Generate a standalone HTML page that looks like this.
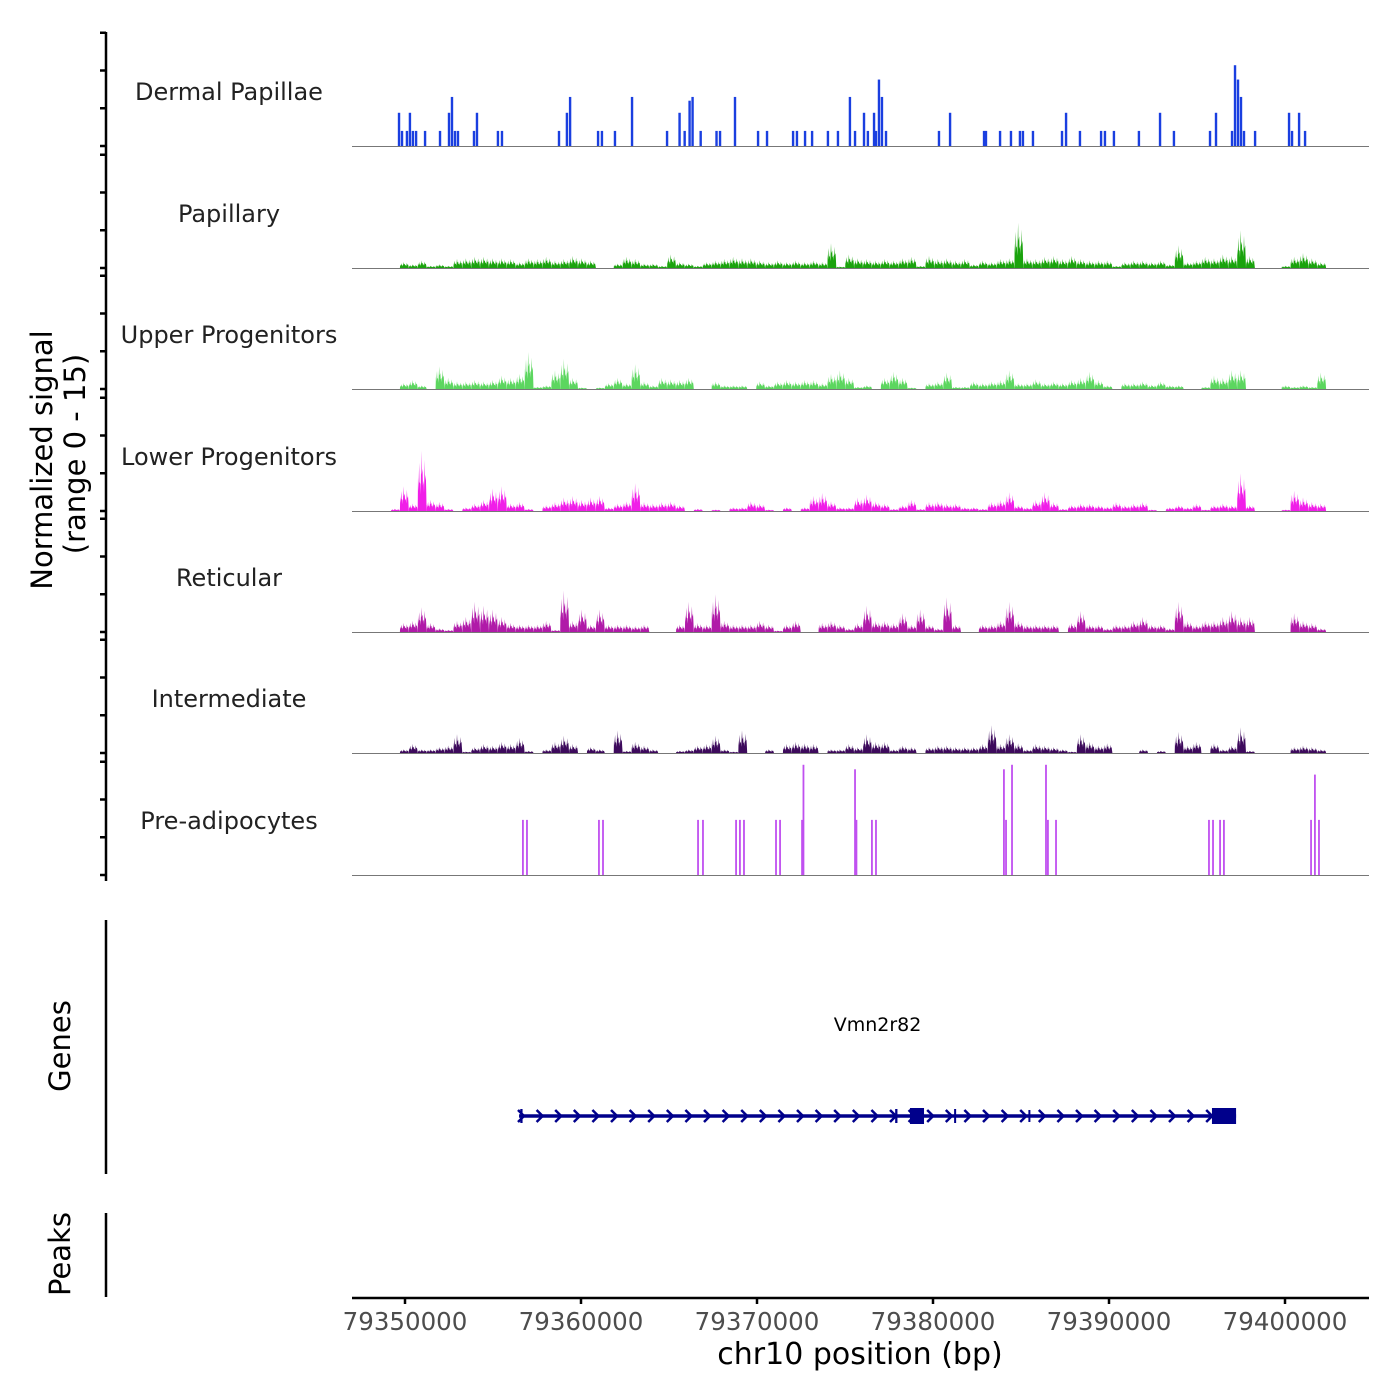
<!DOCTYPE html>
<html><head><meta charset="utf-8">
<style>
html,body{margin:0;padding:0;background:#fff;}
svg{display:block;font-family:"DejaVu Sans","Liberation Sans",sans-serif;}
</style></head>
<body>
<svg id="chart" width="1400" height="1400" viewBox="0 0 1400 1400" xmlns="http://www.w3.org/2000/svg">
  <g id="tracks"></g>
  <line x1="106" y1="32" x2="106" y2="881" stroke="#000" stroke-width="2.5"/>
  <g id="yticks"></g>
  <text transform="translate(52,460) rotate(-90)" text-anchor="middle" font-size="29" fill="#000">Normalized signal</text>
  <text transform="translate(85,454) rotate(-90)" text-anchor="middle" font-size="29" fill="#000">(range 0 - 15)</text>
  <line x1="106" y1="920" x2="106" y2="1174" stroke="#000" stroke-width="2.5"/>
  <text transform="translate(70,1046) rotate(-90)" text-anchor="middle" font-size="29" fill="#000">Genes</text>
  <g id="genes"></g>
  <line x1="106" y1="1213" x2="106" y2="1297" stroke="#000" stroke-width="2.5"/>
  <text transform="translate(70,1254) rotate(-90)" text-anchor="middle" font-size="29" fill="#000">Peaks</text>
  <line x1="352" y1="1298" x2="1369" y2="1298" stroke="#000" stroke-width="2.5"/>
  <g id="xticks"></g>
  <text x="860" y="1364" text-anchor="middle" font-size="30" fill="#000">chr10 position (bp)</text>
</svg>
<script>
// ---- data (positions in kb relative to 79,350,000 bp; signal values 0-15) ----
const trackNames = ["Dermal Papillae","Papillary","Upper Progenitors","Lower Progenitors","Reticular","Intermediate","Pre-adipocytes"];
const trackColors = ["#1a3fe0","#1aa30d","#5cd65f","#f01ee8","#b01aa8","#3d0a5c","#c050f0"];
const xTickValues = [79350000,79360000,79370000,79380000,79390000,79400000];
const binStartKb = -1.3;
const binSizeKb = 0.506;
const dermalPos = [-0.34,-0.17,0.11,0.28,0.45,0.63,1.14,1.99,2.5,2.67,2.84,3.01,3.92,4.09,5.28,5.51,8.75,9.2,9.38,10.97,11.19,11.93,12.9,14.89,15.6,15.89,16.17,16.34,16.8,17.7,17.9,18.75,20.06,20.57,22.05,22.27,22.73,23.13,24.03,24.6,25.28,25.57,26.08,26.3,26.65,26.76,26.93,27.1,27.33,30.34,30.97,32.9,33.01,33.81,34.43,34.94,35.11,35.68,37.33,37.56,38.35,39.55,39.77,40.28,41.7,42.9,43.69,45.74,46.08,46.99,47.16,47.33,47.5,47.67,48.3,50.23,50.4,50.8,51.14];
const dermalVal = [4.4,2,2,4.4,2,2,2,2,4.4,6.5,2,2,2,4.4,2,2,2,4.4,6.5,2,2,2,6.5,2,4.4,2,6,6.5,2,2,2,6.5,2,2,2,2,2,2,2,2,6.5,2,4.4,2,4.4,2,8.8,6.5,2,2,4.4,2,2,2,2,2,2,2,2,4.4,2,2,2,2,2,4.4,2,2,4.4,2,10.7,8.8,6.5,2,2,4.4,2,4.4,2];
const papillaryVal = [0,0,0.8,0.5,1,0.3,0.5,0.3,1.2,1.3,1.5,1.5,1.3,1.3,1.2,0.8,1.3,1.2,1.5,1,1.2,1.6,1.3,1,0,0,0.6,1.5,1.2,0.6,0.6,0.3,1.8,0.8,0.6,0.3,0.8,1,1.2,1.5,1.3,1.3,1,0.8,1,0.8,1,0.8,1,0.8,3.3,0.2,1.8,1.3,1.2,1,1.2,1,1.3,1.5,0.3,1.6,1.2,1.3,1,1.2,0.5,1,0.8,1.2,1.3,6,1.3,1.2,1.5,1.6,1.2,1.6,1.2,1,1,1,0.3,0.8,1,1,0.8,1,0.5,3,0.8,1,1.5,1.3,1.8,1.6,5,1.6,0,0,0,0.3,1.5,2,1.3,0.8,0];
const upperVal = [0,0,0.8,1.2,0.5,0,3,1.5,1,1,1.2,1,1.2,1.8,1.5,2,4.9,0.3,0.5,2.5,4,1.5,0.2,0,0.2,0.8,1.5,0.8,3.3,1,0.5,1.5,1.3,1.2,1.5,0,0,1,0.5,0.5,0.5,0,1,0.5,1,1.2,1,1.2,1.2,0.8,2,2.5,1.5,0.3,0.5,0,1.5,2.3,1.5,0.2,0,0.8,1,2.2,0.3,0.3,1,0.8,1,1.2,2.5,0.8,0.8,1.3,0.8,1,0.8,1.2,1.5,2.3,1.2,0.5,0,0.8,0.8,1,0.6,1,0.5,0.5,0,0,0.3,1.8,1.5,2.5,2.5,0,0,0,0,0.5,0.3,0.5,0.3,2.2,0];
const lowerVal = [0,0.3,3.3,1,8,1.5,1.2,0.3,0,0.5,1,1.5,3,3.3,1,1.2,0.3,0,0.8,1.2,1.8,2,1.5,1.8,2,0.5,1,1.3,3.7,1.2,1,1.2,1.3,0.8,0,0.3,0,0.2,0,0.5,0.5,1.3,1,0.2,0,0.5,0,0.5,2,2.4,1.3,0.5,0.5,1.8,2.2,1.3,1,0.3,0.8,1.5,0.3,1.2,1.3,1,1,0.5,0.5,0.3,1.2,1.5,2.5,0.8,0.5,1.5,2.5,1.2,0.3,0.8,1,1,0.8,0.6,1.2,0.8,1,1.2,0.2,0,0.5,0.8,0.5,1,0.2,0.8,1,0.8,5,0.8,0,0,0,0.2,2.7,1.8,1.2,1,0];
const reticularVal = [0,0,1.2,1.5,3.3,1.2,0.5,0.3,1.5,2,4,3.5,3,2,1.2,1,1,1,1.5,0.3,5.5,1.5,3,1,3,1,1,1,0.8,1,0,0,0,1,4,1.2,1,5,1.5,1,1,1,1.5,1,0.2,1,1.5,0,0,1.2,1.5,1,0.5,1.2,3.5,1.5,1.5,1.2,2.5,1,3,1,0.5,4.6,1,0,0,1,1,1.5,4,1.5,1,1,1,1,0,1.2,2.8,1,1,0.5,1,1,1.5,2,1,1,0.5,4,1.5,1,1.5,1.5,2,2.8,2,2,0,0,0,0,2.5,1.5,1.2,0.5,0];
const intermediateVal = [0,0,0.5,1.2,0.5,0.5,0.8,1,2.5,0.2,0.8,1.2,1,1.5,1.2,2,0.3,0,0.5,1.5,2.3,1.2,0,0.8,0.5,0,3,0.3,1.5,1,0.5,0,0,0.3,0.5,1,1.2,2.3,0.5,0.2,3,0,0,0.5,0,1.2,1.5,1.3,1.2,0,0.5,0.5,1.2,0.8,2.5,1.5,1.5,0.5,1,0.8,0,0.8,1,1,0.8,0.8,0.8,1.2,3.7,1.2,2.5,1.3,0.5,1.2,1,0.8,0.5,0.2,2.5,1.5,1,1.3,0,0,0,0.5,0,0.3,0,2.8,1,1.5,0,1.3,0.5,1,3.4,0.3,0,0,0,0,0.8,1,0.8,0.5,0];
const preadipoPos = [6.7,6.93,11.02,11.25,16.65,16.93,18.81,19.03,19.26,21.08,21.31,22.56,22.64,25.57,25.65,26.53,26.76,34.03,34.15,34.49,36.42,36.53,36.99,45.68,45.91,46.31,46.53,51.48,51.7,51.93];
const preadipoVal = [7.3,7.3,7.3,7.3,7.3,7.3,7.3,7.3,7.3,7.3,7.3,7.3,14.6,14,7.3,7.3,7.3,14,7.3,14.6,14.6,7.3,7.3,7.3,7.3,7.3,7.3,7.3,13.3,7.3];
const geneStartKb = 6.48, geneEndKb = 47.22;
const exonStarts = [6.55,27.85,28.69,31.2,35.42,45.85];
const exonEnds = [6.68,27.98,29.49,31.3,35.48,47.22];
const exonHeights = [14,14,16,14,12,16];

// ---- scales ----
const X0 = 405, PX_PER_KB = 17.6;
function xScale(kb){ return X0 + kb*PX_PER_KB; }
function xScaleBp(bp){ return xScale((bp-79350000)/1000); }
const baselines = [146,268,389,511,632,753,875];
const PX_PER_UNIT = 7.55;
function yScale(track, v){ return baselines[track] - v*PX_PER_UNIT; }

const NS = "http://www.w3.org/2000/svg";
function mk(tag, attrs, parent){
  const e = document.createElementNS(NS, tag);
  for (const k in attrs) e.setAttribute(k, attrs[k]);
  parent.appendChild(e);
  return e;
}
const tracksG = document.getElementById('tracks');
const ytG = document.getElementById('yticks');

function drawSpikes(t, pos, val, w){
  const g = mk('g', {}, tracksG);
  
  
  for (let i=0;i<pos.length;i++){
    const x = xScale(pos[i]);
    const y = yScale(t, val[i]);
    const r = mk('rect', {x:(x-w/2).toFixed(2), y:y.toFixed(2), width:w, height:(baselines[t]-y).toFixed(2), fill:trackColors[t]}, g);
    
    
  }
}
function drawBins(t, vals){
  const g = mk('g', {}, tracksG);
  
  
  for (let i=0;i<vals.length;i++){
    if (vals[i] <= 0) continue;
    const k0 = binStartKb + i*binSizeKb;
    const xa = xScale(k0), xb = xScale(k0+binSizeKb);
    const b = baselines[t];
    const v = vals[i];
    const q = (xb-xa)/8;
    const hs = [0.55,0.8,0.45,1,0.7,0.5,0.85,0.6];
    const pts = [[xa,b]];
    for (let j=0;j<8;j++){
      pts.push([xa+q*j+0.3, yScale(t, v*hs[j])]);
      pts.push([xa+q*j+q*0.6, yScale(t, v*hs[j]*0.6)]);
    }
    pts.push([xb,b]);
    const p = mk('polygon', {points: pts.map(a=>a[0].toFixed(1)+','+a[1].toFixed(1)).join(' '), fill:trackColors[t]}, g);
    
    
  }
}

drawSpikes(0, dermalPos, dermalVal, 2.4);
drawBins(1, papillaryVal);
drawBins(2, upperVal);
drawBins(3, lowerVal);
drawBins(4, reticularVal);
drawBins(5, intermediateVal);
drawSpikes(6, preadipoPos, preadipoVal, 1.8);

const labelKeys = ['dermal-papillae','papillary','upper-progenitors','lower-progenitors','reticular','intermediate','pre-adipocytes'];
for (let t=0;t<7;t++){
  const bl = mk('line', {x1:352, x2:1369, y1:baselines[t]+0.5, y2:baselines[t]+0.5, stroke:'#777', 'stroke-width':1}, tracksG);
  
  
  const lab = mk('text', {x:229, y:baselines[t]-46, 'text-anchor':'middle', 'font-size':24, fill:'#222'}, tracksG);
  lab.textContent = trackNames[t];
  
  
  for (let k=0;k<4;k++){
    const y = yScale(t, k*5);
    const tk = mk('line', {x1:100, x2:106, y1:y, y2:y, stroke:'#000', 'stroke-width':2.5}, ytG);
    
    
  }
}

// gene track
const gG = document.getElementById('genes');
const gy = 1116;
const gl = mk('line', {x1:xScale(geneStartKb), x2:xScale(geneEndKb), y1:gy, y2:gy, stroke:'#00008b', 'stroke-width':3.5}, gG);


for (let x = xScale(geneStartKb)+2; x < xScale(geneEndKb)-10; x += 18.6){
  const a = mk('polyline', {points:`${(x-3).toFixed(1)},${gy-6} ${(x+3).toFixed(1)},${gy} ${(x-3).toFixed(1)},${gy+6}`, fill:'none', stroke:'#00008b', 'stroke-width':2.5}, gG);
  
  
}
for (let i=0;i<exonStarts.length;i++){
  const xa = xScale(exonStarts[i]), xb = xScale(exonEnds[i]);
  const h = exonHeights[i];
  const r = mk('rect', {x:xa, y:gy-h/2, width:Math.max(2,xb-xa), height:h, fill:'#00008b'}, gG);
  
  
}
const gt = mk('text', {x:xScale((geneStartKb+geneEndKb)/2), y:1031, 'text-anchor':'middle', 'font-size':19, fill:'#000'}, gG);
gt.textContent = 'Vmn2r82';



// x ticks
const xtG = document.getElementById('xticks');
for (const v of xTickValues){
  const x = xScaleBp(v);
  const tk = mk('line', {x1:x, x2:x, y1:1298, y2:1304, stroke:'#000', 'stroke-width':2.5}, xtG);
  
  
  const tl = mk('text', {x:x, y:1330, 'text-anchor':'middle', 'font-size':24.5, fill:'#4d4d4d'}, xtG);
  tl.textContent = String(v);
  
  
}
</script>
</body></html>
